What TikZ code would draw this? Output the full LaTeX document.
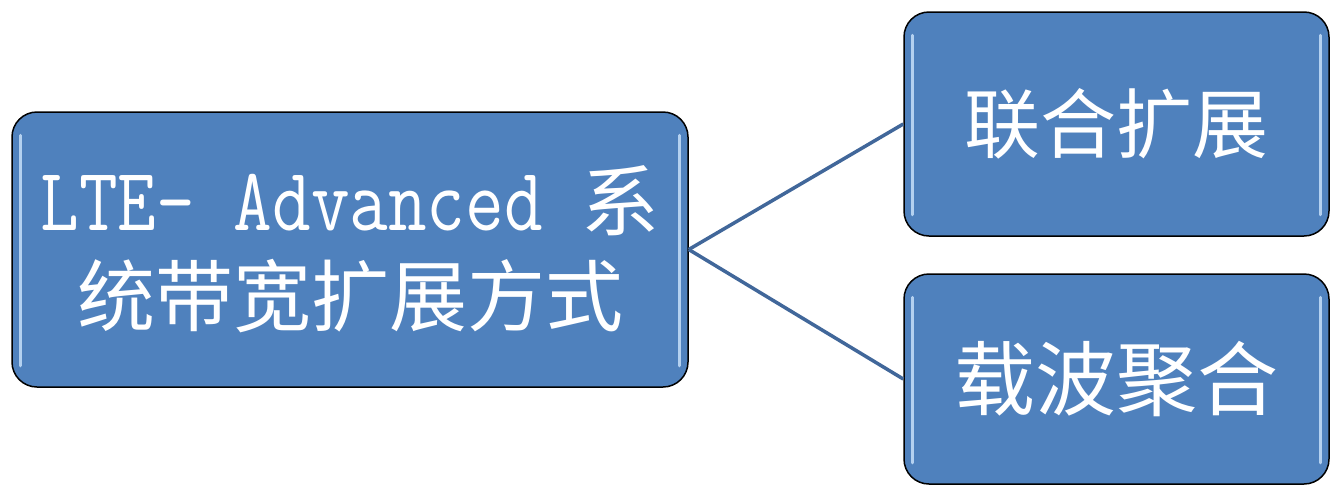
\documentclass[tikz,border=0pt]{standalone}
\usepackage{fontspec}
\newfontfamily\cjk{Noto Sans CJK SC}
\usetikzlibrary{calc}
\definecolor{boxblue}{HTML}{4F81BD}
\definecolor{linkblue}{HTML}{41679A}
\definecolor{hilite}{HTML}{C6E0FA}
\begin{document}
\begin{tikzpicture}[x=1pt,y=-1pt,
 box/.style={draw=black, line width=1.5pt, fill=boxblue, rounded corners=25pt, text=white, align=center, inner sep=0pt},
 conn/.style={draw=linkblue, line width=3.5pt},
 hl/.style={draw=hilite, line width=3pt, line cap=round, opacity=0.85}]
\useasboundingbox (0,0) rectangle (1330,485);
\node[box, minimum width=676pt, minimum height=275pt, font=\fontsize{78}{95}\selectfont\cjk] (L) at (350,249.5)
  {{\ttfamily\fontsize{75}{95}\selectfont\addfontfeatures{FakeBold=1.2}\scalebox{1}[1.2]{LTE- Advanced} }系\\统带宽扩展方式};
\node[box, minimum width=425pt, minimum height=224pt, font=\fontsize{76}{90}\selectfont\cjk] (A) at (1116.5,124) {联合扩展};
\node[box, minimum width=425pt, minimum height=210pt, font=\fontsize{81}{90}\selectfont\cjk] (B) at (1116.5,379) {载波聚合};
\foreach \n in {L,A,B}{
  \draw[hl] ($(\n.north west)+(9,24)$) -- ($(\n.south west)+(9,-22)$);
  \draw[hl] ($(\n.north east)+(-9,24)$) -- ($(\n.south east)+(-9,-22)$);
}
\draw[conn] (L.east) -- (A.west);
\draw[conn] (L.east) -- (B.west);
\end{tikzpicture}
\end{document}
